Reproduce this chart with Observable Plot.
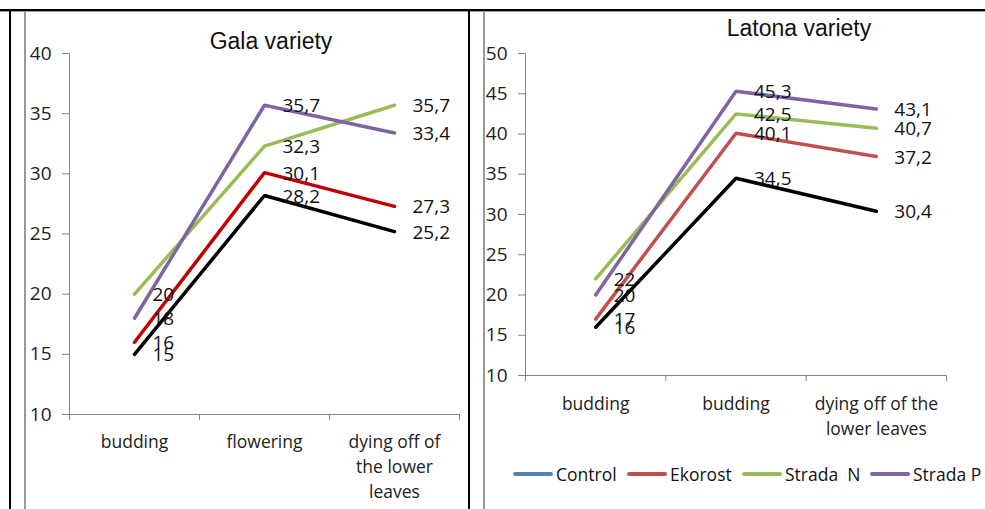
<!DOCTYPE html>
<html>
<head>
<meta charset="utf-8">
<script src="https://cdn.jsdelivr.net/npm/d3@7"></script>
<script src="https://cdn.jsdelivr.net/npm/@observablehq/plot@0.6"></script>
<style>
  html, body { margin: 0; padding: 0; background: #fff; }
  #root { position: relative; width: 985px; height: 509px; overflow: hidden; background: #fff; font-family: "Open Sans", sans-serif; }
  .abs { position: absolute; }
  .title { font-family: "Liberation Sans", Arial, sans-serif; font-size: 23px; line-height: 23px; color: #111; white-space: nowrap; transform: translateX(-50%); }
  .legend-item { position: absolute; top: 462px; height: 24px; display: flex; align-items: center; font-size: 17.5px; color: #111; white-space: pre; }
  .sw { display: inline-block; width: 40px; height: 4px; border-radius: 2px; margin-right: 3px; }
</style>
</head>
<body>
<div id="root">
  <div class="abs" style="left:0;top:9px;width:985px;height:2px;background:#000"></div>
  <div class="abs" style="left:0;top:11px;width:985px;height:1px;background:#999"></div>
  <div class="abs" style="left:9px;top:9px;width:2px;height:500px;background:#000"></div>
  <div class="abs" style="left:24px;top:11px;width:2px;height:498px;background:#999"></div>
  <div class="abs" style="left:468px;top:9px;width:2px;height:500px;background:#000"></div>
  <div class="abs" style="left:483px;top:11px;width:2px;height:498px;background:#999"></div>
  <div id="left" class="abs" style="left:26px;top:12px"></div>
  <div id="right" class="abs" style="left:485px;top:12px"></div>
  <div class="abs title" style="left:271px;top:30px">Gala variety</div>
  <div class="abs title" style="left:799px;top:17px">Latona variety</div>
  <div id="legend"></div>
</div>
<script>
// ---- data ----
const stageIndex = [0, 1, 2];
const galaStages = ["budding", "flowering", "dying off of\nthe lower\nleaves"];
const latonaStages = ["budding", "budding", "dying off of the\nlower leaves"];
const seriesNames = ["Control", "Ekorost", "Strada  N", "Strada P"];

const galaControl = [15, 28.2, 25.2];
const galaEkorost = [16, 30.1, 27.3];
const galaStradaN = [20, 32.3, 35.7];
const galaStradaP = [18, 35.7, 33.4];

const latonaControl = [16, 34.5, 30.4];
const latonaEkorost = [17, 40.1, 37.2];
const latonaStradaN = [22, 42.5, 40.7];
const latonaStradaP = [20, 45.3, 43.1];

const galaYTicks = [10, 15, 20, 25, 30, 35, 40];
const latonaYTicks = [10, 15, 20, 25, 30, 35, 40, 45, 50];

const galaColors = ["#000000", "#C00000", "#9BBB59", "#8064A2"];
const latonaColors = ["#000000", "#C0504D", "#9BBB59", "#8064A2"];
const legendColors = ["#4F81BD", "#C0504D", "#9BBB59", "#8064A2"];

// ---- build ----
function rows(seriesValues) {
  const out = [];
  seriesValues.forEach((vals, s) => {
    vals.forEach((v, i) => out.push({series: seriesNames[s], x: stageIndex[i] + 0.5, value: v}));
  });
  return out;
}
const fmt = v => String(v).replace(".", ",");
const axisGray = "#868686";

function panel({data, stages, yTicks, colors, width, height, marginLeft, marginRight, marginTop, marginBottom, labelDy}) {
  const yMin = yTicks[0], yMax = yTicks[yTicks.length - 1];
  const stageData = stages.map((s, i) => ({label: s, x: stageIndex[i] + 0.5}));
  return Plot.plot({
    width, height, marginLeft, marginRight, marginTop, marginBottom,
    style: {fontFamily: "Open Sans, sans-serif", fontSize: "17.5px", background: "transparent", overflow: "visible"},
    x: {type: "linear", domain: [0, 3], axis: null, label: null},
    y: {domain: [yMin, yMax], axis: null, label: null},
    color: {domain: seriesNames, range: colors},
    marks: [
      Plot.ruleX([0], {stroke: axisGray, strokeWidth: 1}),
      Plot.ruleY([yMin], {stroke: axisGray, strokeWidth: 1}),
      Plot.axisY({ticks: yTicks, tickSize: 7, tickPadding: 11, stroke: axisGray, fill: "#222", fontSize: "19px", tickFormat: d => String(d), label: null}),
      Plot.axisX({ticks: [0, 1, 2, 3], tickSize: 6, stroke: axisGray, tickFormat: () => "", label: null}),
      Plot.text(stageData, {x: "x", y: () => yMin, text: "label", lineAnchor: "top", dy: labelDy, lineHeight: 1.45, fill: "#222", fontSize: "17.5px"}),
      Plot.line(data, {x: "x", y: "value", z: "series", stroke: "series", strokeWidth: 3.5, strokeLinejoin: "miter"}),
      Plot.text(data, {x: "x", y: "value", text: d => fmt(d.value), textAnchor: "start", dx: 18, dy: 1, fill: "#111", fontSize: "19px"})
    ]
  });
}

const left = panel({
  data: rows([galaControl, galaEkorost, galaStradaN, galaStradaP]),
  stages: galaStages, yTicks: galaYTicks, colors: galaColors,
  width: 442, height: 497, marginLeft: 43, marginRight: 9, marginTop: 41, marginBottom: 95, labelDy: 15
});
document.getElementById("left").appendChild(left);

const right = panel({
  data: rows([latonaControl, latonaEkorost, latonaStradaN, latonaStradaP]),
  stages: latonaStages, yTicks: latonaYTicks, colors: latonaColors,
  width: 500, height: 497, marginLeft: 40, marginRight: 39, marginTop: 41, marginBottom: 134, labelDy: 16
});
document.getElementById("right").appendChild(right);

// legend
const legendX = [513, 627, 742, 870];
const legend = document.getElementById("legend");
seriesNames.forEach((name, i) => {
  const item = document.createElement("div");
  item.className = "legend-item";
  item.style.left = legendX[i] + "px";
  const sw = document.createElement("span");
  sw.className = "sw";
  sw.style.background = legendColors[i];
  item.appendChild(sw);
  item.appendChild(document.createTextNode(name));
  legend.appendChild(item);
});
</script>
</body>
</html>
